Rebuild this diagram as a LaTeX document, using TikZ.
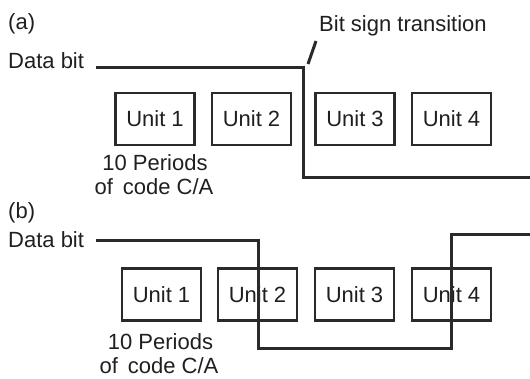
\documentclass[tikz,border=0pt]{standalone}
\usepackage{fontspec}
\setmainfont{Liberation Sans}
\definecolor{ink}{HTML}{1F1F1F}
\definecolor{wire}{HTML}{2A2A2A}
\begin{document}
\begin{tikzpicture}[x=1pt,y=-1pt,
  lbl/.style={font=\fontsize{22}{24}\selectfont, text=ink, inner sep=0pt},
  unitbox/.style={lbl, draw=wire, line width=2.8pt, minimum width=79pt, minimum height=52pt},
  wave/.style={draw=wire, line width=3pt}]
\useasboundingbox (0,0) rectangle (530,378);

% ---------- panel (a) ----------
\node[lbl, anchor=base west] (tagA) at (8,29) {(a)};
\node[lbl, anchor=base west] (dataA) at (8,68) {Data bit};
\node[lbl, anchor=base west] (bst) at (319,31) {Bit sign transition};

\node[unitbox] (a1) at (155,119) {Unit 1};
\node[unitbox] (a2) at (251.5,119) {Unit 2};
\node[unitbox] (a3) at (355,119) {Unit 3};
\node[unitbox] (a4) at (451.5,119) {Unit 4};

\node[lbl, anchor=base] (pa1) at (155,170) {10 Periods};
\node[lbl, anchor=base] (pa2) at (154,194) {of\hspace{0.45em}code C/A};

% data bit waveform, one sign change between unit 2 and unit 3
\coordinate (sa) at (96,67.5);
\coordinate (ka) at (303.5,67.5);
\coordinate (la) at (303.5,177);
\coordinate (ea) at (530,177);
\draw[wave] (sa) -- (ka) -- (la) -- (ea);

% pointer from the label to the transition
\coordinate (ta) at (308,64);
\coordinate (tb) at (316,41);
\draw[wave] (ta) -- (tb);

% ---------- panel (b) ----------
\node[lbl, anchor=base west] (tagB) at (8,218) {(b)};
\node[lbl, anchor=base west] (dataB) at (8,247) {Data bit};

\node[unitbox] (b1) at (161.5,294.5) {Unit 1};
\node[unitbox] (b2) at (257.5,294.5) {Unit 2};
\node[unitbox] (b3) at (354.5,294.5) {Unit 3};
\node[unitbox] (b4) at (451.5,294.5) {Unit 4};

\node[lbl, anchor=base] (pb1) at (160.5,349) {10 Periods};
\node[lbl, anchor=base] (pb2) at (159,373) {of\hspace{0.45em}code C/A};

% data bit waveform, sign changes inside unit 2 and unit 4
\coordinate (sb) at (96,240);
\coordinate (kb) at (258,240);
\coordinate (lb) at (258,348);
\coordinate (mb) at (451,348);
\coordinate (nb) at (451,234);
\coordinate (eb) at (530,234);
\draw[wave] (sb) -- (kb) -- (lb) -- (mb) -- (nb) -- (eb);
\end{tikzpicture}
\end{document}
